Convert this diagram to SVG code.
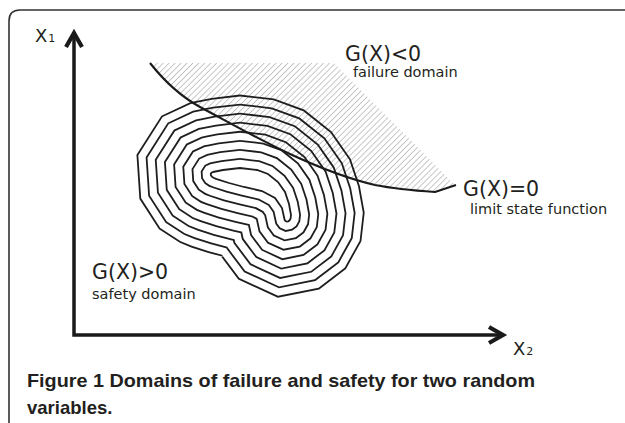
<svg xmlns="http://www.w3.org/2000/svg" width="625" height="423" viewBox="0 0 625 423">
<style>
.lbl{font-family:"DejaVu Sans",Verdana,sans-serif;fill:#231f20}
.big{font-size:20.5px}
.small{font-size:14.5px}
.sub{font-size:11px}
.axis{stroke:#1a1a1a;stroke-width:3.5;fill:none;stroke-linejoin:miter}
.head{stroke:#1a1a1a;stroke-width:4.2;fill:none;stroke-linejoin:miter;stroke-miterlimit:6}
.cap{font-family:"Liberation Sans",Arial,sans-serif;font-weight:bold;font-size:18.5px;fill:#231f20}
.frame{stroke:#333;stroke-width:1.6;fill:none}
.curve{stroke:#1a1a1a;stroke-width:2.1;fill:none;stroke-linejoin:round}
</style>
<defs>
<pattern id="hatch" patternUnits="userSpaceOnUse" width="4.2" height="4.2" patternTransform="rotate(45)">
<line x1="0" y1="0" x2="0" y2="4.2" stroke="#7d7d7d" stroke-width="0.85"/>
</pattern>
<clipPath id="hclip">
<path d="M150,63 C165,82 180,96 200,107 C230,123 260,140 290,154 C320,168 345,178 375,185 C395,189 420,191 435,192 L456,186 L334,63 Z"/>
</clipPath>
<path id="cr" stroke-linejoin="miter" stroke-miterlimit="4" d="M213,172 L223,170 L240,168 L257,170 L268,174 L278,182 L285,192 L289,204 L291,215 L290.6,218.5 L289.6,220.3 L288.3,221.3 L286.8,221.6 L285.5,221 L284.6,219.8 L282,208 L275,198 L262,191 L244,187 L229,183 L216,178.8 L213.5,177.8 L211.8,176.7 L210.9,175.3 L210.8,173.8 L211.5,172.7 Z"/>
<mask id="rings" maskUnits="userSpaceOnUse" x="0" y="0" width="625" height="423">
<use href="#cr" fill="#fff" stroke="#fff" stroke-width="145.8"/>
<use href="#cr" fill="#000" stroke="#000" stroke-width="142.2"/>
<use href="#cr" fill="#fff" stroke="#fff" stroke-width="127.8"/>
<use href="#cr" fill="#000" stroke="#000" stroke-width="124.2"/>
<use href="#cr" fill="#fff" stroke="#fff" stroke-width="109.8"/>
<use href="#cr" fill="#000" stroke="#000" stroke-width="106.2"/>
<use href="#cr" fill="#fff" stroke="#fff" stroke-width="91.8"/>
<use href="#cr" fill="#000" stroke="#000" stroke-width="88.2"/>
<use href="#cr" fill="#fff" stroke="#fff" stroke-width="73.8"/>
<use href="#cr" fill="#000" stroke="#000" stroke-width="70.2"/>
<use href="#cr" fill="#fff" stroke="#fff" stroke-width="55.8"/>
<use href="#cr" fill="#000" stroke="#000" stroke-width="52.2"/>
<use href="#cr" fill="#fff" stroke="#fff" stroke-width="37.8"/>
<use href="#cr" fill="#000" stroke="#000" stroke-width="34.2"/>
<use href="#cr" fill="#fff" stroke="#fff" stroke-width="19.8"/>
<use href="#cr" fill="#000" stroke="#000" stroke-width="16.2"/>
<use href="#cr" fill="none" stroke="#fff" stroke-width="1.8"/>
</mask>
</defs>
<rect width="625" height="423" fill="#fff"/>
<g id="frame"><path class="frame" d="M9,423 V21 Q9,10 20,10 H625"/></g>
<g id="failure-hatch"><rect x="140" y="55" width="330" height="145" fill="url(#hatch)" clip-path="url(#hclip)"/></g>
<g id="contours"><rect x="0" y="0" width="625" height="423" fill="#1e1e1e" mask="url(#rings)"/></g>
<g id="limit-state-curve"><path class="curve" d="M150,63 C165,82 180,96 200,107 C230,123 260,140 290,154 C320,168 345,178 375,185 C395,189 420,191 435,192 L456,185"/></g>
<g id="axes">
<polyline class="axis" points="74,36 74,335 502,335"/>
<polyline class="head" points="66,47 74,33 82,47"/>
<polyline class="head" points="489,327 503,335 489,343"/>
</g>
<g id="labels">
<text class="lbl" x="35" y="42" font-size="18">X<tspan class="sub" dx="1">1</tspan></text>
<text class="lbl" x="513" y="355" font-size="18">X<tspan class="sub" dx="1">2</tspan></text>
<text class="lbl big" x="345" y="61">G(X)&lt;0</text>
<text class="lbl small" x="353" y="77">failure domain</text>
<text class="lbl big" x="463" y="196">G(X)=0</text>
<text class="lbl small" x="470" y="214">limit state function</text>
<text class="lbl big" x="92" y="279">G(X)&gt;0</text>
<text class="lbl small" x="92" y="299">safety domain</text>
</g>
<g id="caption">
<text class="cap" x="27" y="387" textLength="508" lengthAdjust="spacingAndGlyphs">Figure 1 Domains of failure and safety for two random</text>
<text class="cap" x="27" y="414">variables.</text>
</g>
</svg>
